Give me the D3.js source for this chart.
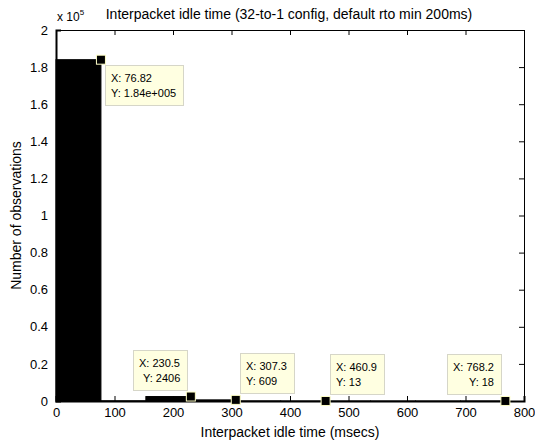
<!DOCTYPE html>
<html>
<head>
<meta charset="utf-8">
<script src="https://cdn.jsdelivr.net/npm/d3@7"></script>
<style>
  body { margin: 0; background: #fff; }
  svg { display: block; }
  text { font-family: "Liberation Sans", Arial, sans-serif; fill: #000; }
</style>
</head>
<body>
<svg id="chart" width="535" height="445"></svg>
<script>
// Histogram bin edges (msecs) and counts per bin
const binEdges = [0, 76.82, 153.6, 230.5, 307.3, 384.1, 460.9, 537.7, 614.6, 691.4, 768.2];
const binCounts = [184000, 95, 2406, 609, 41, 13, 6, 4, 2, 18];

// Data tips: bin edge they sit on, the value text, where the box opens, how line 2 aligns
const tipX = [76.82, 230.5, 307.3, 460.9, 768.2];
const tipY = [184000, 2406, 609, 13, 18];
const tipYText = ["1.84e+005", "2406", "609", "13", "18"];
const tipSide = ["br", "tl", "tr", "tr", "tl"];
const tipAlign = ["left", "indent", "left", "left", "right"];

const xTicks = [0, 100, 200, 300, 400, 500, 600, 700, 800];
const yTicks = [0, 0.2e5, 0.4e5, 0.6e5, 0.8e5, 1e5, 1.2e5, 1.4e5, 1.6e5, 1.8e5, 2e5];

const svg = d3.select("#chart");
const m = { left: 56, top: 30, right: 524, bottom: 401 };

const x = d3.scaleLinear().domain([0, 800]).range([m.left, m.right]);
const y = d3.scaleLinear().domain([0, 2e5]).range([m.bottom, m.top]);

svg.append("rect").attr("x", m.left).attr("y", m.top)
  .attr("width", m.right - m.left).attr("height", m.bottom - m.top)
  .attr("fill", "#fff");

// Bars
const bins = binCounts.map((c, i) => ({ x0: binEdges[i], x1: binEdges[i + 1], c }));
svg.append("g").selectAll("rect").data(bins).join("rect")
  .attr("x", d => x(d.x0))
  .attr("y", d => y(d.c))
  .attr("width", d => x(d.x1) - x(d.x0))
  .attr("height", d => y(0) - y(d.c))
  .attr("fill", "#000")
  .attr("stroke", "#000")
  .attr("stroke-width", 1);

// Axes with inward ticks on all four sides
const fmtY = v => String(+(v / 1e5).toFixed(1));

const xAxisB = d3.axisBottom(x).tickValues(xTicks).tickSize(-5).tickPadding(7).tickFormat(d3.format("d"));
const xAxisT = d3.axisTop(x).tickValues(xTicks).tickSize(-5).tickFormat("");
const yAxisL = d3.axisLeft(y).tickValues(yTicks).tickSize(-5).tickPadding(8).tickFormat(fmtY);
const yAxisR = d3.axisRight(y).tickValues(yTicks).tickSize(-5).tickFormat("");

function styleAxis(g) {
  g.select(".domain").attr("stroke", "#000");
  g.selectAll(".tick line").attr("stroke", "#000");
  g.selectAll(".tick text").attr("font-size", 13).attr("font-family", "Liberation Sans, Arial, sans-serif");
}

svg.append("g").attr("transform", `translate(0,${m.bottom})`).call(xAxisB).call(styleAxis)
  .select(".domain").attr("stroke-width", 2);
svg.append("g").attr("transform", `translate(0,${m.top})`).call(xAxisT).call(styleAxis);
svg.append("g").attr("transform", `translate(${m.left},0)`).call(yAxisL).call(styleAxis)
  .select(".domain").attr("stroke-width", 2);
svg.append("g").attr("transform", `translate(${m.right},0)`).call(yAxisR).call(styleAxis);

// Exponent label above the y axis
const expo = svg.append("text").attr("x", m.left + 1).attr("y", m.top - 9).attr("font-size", 12);
expo.append("tspan").text("x 10");
expo.append("tspan").attr("font-size", 8).attr("dy", -6).text("5");

// Title and axis labels
svg.append("text").attr("x", 289).attr("y", 19).attr("text-anchor", "middle")
  .attr("font-size", 14).text("Interpacket idle time (32-to-1 config, default rto min 200ms)");
svg.append("text").attr("x", (m.left + m.right) / 2).attr("y", 437).attr("text-anchor", "middle")
  .attr("font-size", 14).text("Interpacket idle time (msecs)");
svg.append("text").attr("transform", `translate(21,${(m.top + m.bottom) / 2}) rotate(-90)`)
  .attr("text-anchor", "middle").attr("font-size", 14).text("Number of observations");

// Data tips
const tips = tipX.map((v, i) => ({ x: v, y: tipY[i], yt: tipYText[i], side: tipSide[i], align: tipAlign[i] }));
const tipG = svg.append("g");
tips.forEach(t => {
  const px = x(t.x), py = y(t.y);
  const g = tipG.append("g");
  const box = g.append("rect").attr("fill", "#ffffe1").attr("stroke", "#d6d6c8").attr("stroke-width", 1);
  const t1 = g.append("text").attr("font-size", 11).text("X: " + t.x);
  const t2 = g.append("text").attr("font-size", 11).text("Y: " + t.yt);
  const w1 = t1.node().getComputedTextLength(), w2 = t2.node().getComputedTextLength();
  const bw = Math.round(Math.max(w1, w2) + 13), bh = 40;
  let bx, by;
  if (t.side === "br") { bx = px + 4; by = py + 5; }
  else if (t.side === "tr") { bx = px + 4; by = py - bh - 7; }
  else { bx = px - bw - 4; by = py - bh - 7; }
  bx = Math.round(bx); by = Math.round(by);
  box.attr("x", bx + 0.5).attr("y", by + 0.5).attr("width", bw).attr("height", bh);
  t1.attr("x", bx + 6).attr("y", by + 17);
  if (t.align === "right") t2.attr("x", bx + 6 + w1).attr("text-anchor", "end");
  else if (t.align === "indent") t2.attr("x", bx + 10);
  else t2.attr("x", bx + 6);
  t2.attr("y", by + 32);
  tipG.append("rect").attr("x", px - 4.5).attr("y", py - 4.5).attr("width", 9).attr("height", 9)
    .attr("fill", "#000").attr("stroke", "#ffffc8").attr("stroke-width", 1);
});
</script>
</body>
</html>
